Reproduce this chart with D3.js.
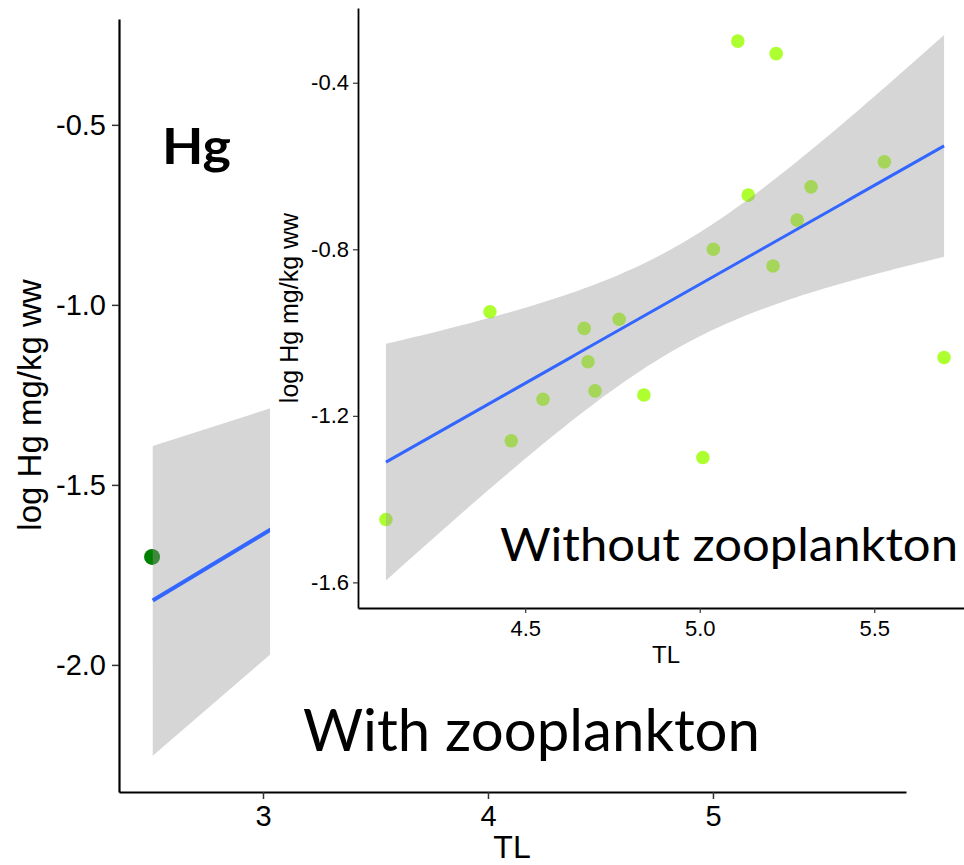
<!DOCTYPE html>
<html>
<head>
<meta charset="utf-8">
<script src="https://cdn.jsdelivr.net/npm/d3@7"></script>
<style>
  html, body { margin: 0; padding: 0; background: #fff; }
  svg { display: block; }
</style>
</head>
<body>
<div id="chart"></div>
<script>
// main panel (with zooplankton) - only one point is visible, the rest is under the inset
const mainTL = [2.507];
const mainHg = [-1.70];
// visible part of the main panel fit and its 95% band
const mainFitTL = [2.51, 3.04];
const mainFitHg = [-1.821, -1.622];
const mainLower = [-2.252, -1.967];
const mainUpper = [-1.392, -1.286];
const mainXTicks = [3, 4, 5];
const mainYTicks = [-0.5, -1.0, -1.5, -2.0];

// inset panel (without zooplankton)
const insetTL = [5.109, 5.219, 5.529, 5.319, 5.139, 5.279, 5.039, 5.210, 4.769, 4.399,
                 4.669, 4.680, 4.700, 4.551, 4.840, 4.460, 4.101, 5.009, 5.700];
const insetHg = [-0.300, -0.330, -0.590, -0.650, -0.670, -0.730, -0.800, -0.840, -0.968, -0.950,
                 -0.990, -1.070, -1.140, -1.160, -1.150, -1.260, -1.449, -1.300, -1.060];
const insetXTicks = [4.5, 5.0, 5.5];
const insetYTicks = [-0.4, -0.8, -1.2, -1.6];

const width = 964, height = 865;
const tickFont = "'Liberation Sans', Arial, sans-serif";
const labelFont = "Lato, 'Open Sans', sans-serif";
const ribbonFill = '#999999', ribbonAlpha = 0.4, fitColor = '#3366FF';

const svg = d3.select('#chart').append('svg')
    .attr('width', width)
    .attr('height', height);

// ---------- main panel ----------
const x = d3.scaleLinear().domain([2.36, 5.858]).range([119, 906]);
const y = d3.scaleLinear().domain([-2.353, -0.206]).range([792, 19]);

const main = svg.append('g');

main.selectAll('circle')
    .data(mainTL)
    .enter()
    .append('circle')
    .attr('cx', d => x(d))
    .attr('cy', (d, i) => y(mainHg[i]))
    .attr('r', 8)
    .attr('fill', '#008000');

main.append('path')
    .datum(mainFitTL)
    .attr('fill', ribbonFill)
    .attr('fill-opacity', ribbonAlpha)
    .attr('d', d3.area()
        .x(d => x(d))
        .y0((d, i) => y(mainLower[i]))
        .y1((d, i) => y(mainUpper[i])));

main.append('path')
    .datum(mainFitTL)
    .attr('fill', 'none')
    .attr('stroke', fitColor)
    .attr('stroke-width', 4)
    .attr('d', d3.line().x(d => x(d)).y((d, i) => y(mainFitHg[i])));

const mainX = main.append('g')
    .attr('transform', 'translate(0,792)')
    .call(d3.axisBottom(x).tickValues(mainXTicks).tickFormat(d3.format('d'))
        .tickSize(7).tickPadding(6).tickSizeOuter(0));
const mainY = main.append('g')
    .attr('transform', 'translate(119,0)')
    .call(d3.axisLeft(y).tickValues(mainYTicks).tickFormat(d => d.toFixed(1))
        .tickSize(7).tickPadding(6).tickSizeOuter(0));

[mainX, mainY].forEach(g => {
    g.select('.domain').attr('stroke', '#000').attr('stroke-width', 2.2);
    g.selectAll('.tick line').attr('stroke', '#333').attr('stroke-width', 1.5);
    g.selectAll('.tick text').attr('fill', '#000')
        .style('font-family', tickFont).style('font-size', '29px');
});

main.append('text')
    .attr('x', 512).attr('y', 858)
    .attr('text-anchor', 'middle')
    .style('font-family', tickFont).style('font-size', '32px')
    .text('TL');

main.append('text')
    .attr('transform', 'translate(41,405) rotate(-90)')
    .attr('text-anchor', 'middle')
    .style('font-family', tickFont).style('font-size', '33px')
    .text('log Hg mg/kg ww');

main.append('text')
    .attr('x', 162).attr('y', 164)
    .attr('textLength', 69).attr('lengthAdjust', 'spacingAndGlyphs')
    .style('font-family', labelFont).style('font-weight', 700).style('font-size', '50px')
    .text('Hg');

// ---------- inset panel ----------
const inset = svg.append('g');

inset.append('rect')
    .attr('x', 270).attr('y', 0)
    .attr('width', width - 270).attr('height', 680)
    .attr('fill', '#fff');

const ix = d3.scaleLinear().domain([4.021, 5.780]).range([358, 972]);
const iy = d3.scaleLinear().domain([-1.6615, -0.2205]).range([608, 8]);

// linear fit with 95% confidence band (same as geom_smooth(method = "lm"))
const n = insetTL.length;
const mx = d3.mean(insetTL), my = d3.mean(insetHg);
const sxx = d3.sum(insetTL, v => (v - mx) ** 2);
const sxy = d3.sum(insetTL, (v, i) => (v - mx) * (insetHg[i] - my));
const slope = sxy / sxx, icpt = my - slope * mx;
const sse = d3.sum(insetTL, (v, i) => (insetHg[i] - icpt - slope * v) ** 2);
const sRes = Math.sqrt(sse / (n - 2));
const tCrit = 2.1098; // qt(0.975, df = 17)
const [tlMin, tlMax] = d3.extent(insetTL);
const fit = d3.range(80).map(k => {
    const t = tlMin + (tlMax - tlMin) * k / 79;
    const yhat = icpt + slope * t;
    const se = sRes * Math.sqrt(1 / n + (t - mx) ** 2 / sxx);
    return { t, yhat, lo: yhat - tCrit * se, hi: yhat + tCrit * se };
});

inset.selectAll('circle')
    .data(insetTL)
    .enter()
    .append('circle')
    .attr('cx', d => ix(d))
    .attr('cy', (d, i) => iy(insetHg[i]))
    .attr('r', 6.8)
    .attr('fill', '#ADFF2F');

inset.append('path')
    .datum(fit)
    .attr('fill', ribbonFill)
    .attr('fill-opacity', ribbonAlpha)
    .attr('d', d3.area().x(d => ix(d.t)).y0(d => iy(d.lo)).y1(d => iy(d.hi)));

inset.append('path')
    .datum(fit)
    .attr('fill', 'none')
    .attr('stroke', fitColor)
    .attr('stroke-width', 3)
    .attr('d', d3.line().x(d => ix(d.t)).y(d => iy(d.yhat)));

const insetX = inset.append('g')
    .attr('transform', 'translate(0,608)')
    .call(d3.axisBottom(ix).tickValues(insetXTicks).tickFormat(d => d.toFixed(1))
        .tickSize(5).tickPadding(7).tickSizeOuter(0));
const insetY = inset.append('g')
    .attr('transform', 'translate(358,0)')
    .call(d3.axisLeft(iy).tickValues(insetYTicks).tickFormat(d => d.toFixed(1))
        .tickSize(5).tickPadding(4).tickSizeOuter(0));

[insetX, insetY].forEach(g => {
    g.select('.domain').attr('stroke', '#000').attr('stroke-width', 1.8);
    g.selectAll('.tick line').attr('stroke', '#333').attr('stroke-width', 1.2);
    g.selectAll('.tick text').attr('fill', '#000')
        .style('font-family', tickFont).style('font-size', '22px');
});

inset.append('text')
    .attr('x', 666).attr('y', 663)
    .attr('text-anchor', 'middle')
    .style('font-family', tickFont).style('font-size', '24px')
    .text('TL');

inset.append('text')
    .attr('transform', 'translate(298,308) rotate(-90)')
    .attr('text-anchor', 'middle')
    .style('font-family', tickFont).style('font-size', '25px')
    .text('log Hg mg/kg ww');

// ---------- panel captions ----------
svg.append('text')
    .attr('x', 500).attr('y', 561)
    .attr('textLength', 458).attr('lengthAdjust', 'spacingAndGlyphs')
    .style('font-family', labelFont).style('font-size', '47px')
    .text('Without zooplankton');

svg.append('text')
    .attr('x', 303).attr('y', 751)
    .attr('textLength', 457).attr('lengthAdjust', 'spacingAndGlyphs')
    .style('font-family', labelFont).style('font-size', '58px')
    .text('With zooplankton');
</script>
</body>
</html>
